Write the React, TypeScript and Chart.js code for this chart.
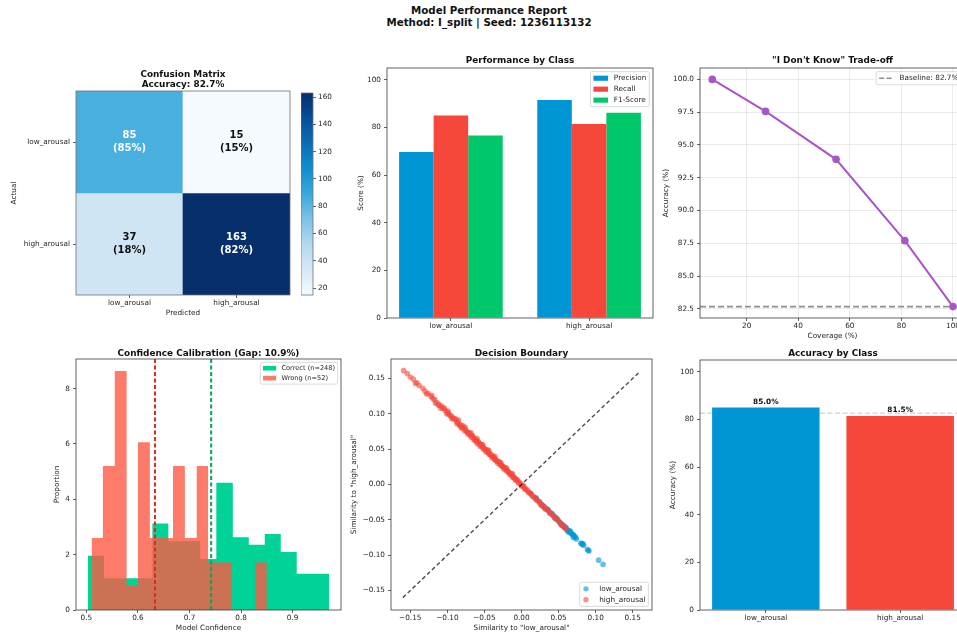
import React, { useEffect, useRef } from 'react';
import { Chart, registerables } from 'chart.js';

Chart.register(...registerables);

// ---------- data ----------
const methodName = 'I_split';
const seed = '1236113132';

const classNames = ['low_arousal', 'high_arousal'];
// rows = actual, columns = predicted
const confusionCounts = [
  [85, 15],
  [37, 163],
];

const metricNames = ['Precision', 'Recall', 'F1-Score'];
const precisionPct = [69.7, 91.6];
const recallPct = [85.0, 81.5];
const f1Pct = [76.6, 86.2];

const coveragePct = [6.67, 27.33, 54.67, 81.33, 100];
const selectiveAccPct = [100.0, 97.56, 93.9, 87.7, 82.67];
const baselineAccPct = 82.67;

const correctBinEdges = [0.503, 0.534, 0.566, 0.597, 0.628, 0.659, 0.69, 0.721, 0.752, 0.784, 0.815, 0.846, 0.877, 0.908, 0.939, 0.971];
const correctDensity = [1.96, 1.15, 1.15, 1.15, 3.13, 2.48, 2.48, 1.84, 4.6, 2.63, 2.36, 2.75, 2.1, 1.31, 1.31];
const wrongBinEdges = [0.51, 0.532, 0.555, 0.578, 0.6, 0.623, 0.646, 0.668, 0.691, 0.714, 0.736, 0.759, 0.782, 0.804, 0.827, 0.85];
const wrongDensity = [2.6, 5.2, 8.64, 0.87, 6.06, 2.6, 2.6, 5.2, 2.6, 5.2, 1.72, 1.72, 0, 0, 1.72];
const correctMeanConf = 0.742;
const wrongMeanConf = 0.633;

const lowSimX = [
  0.012, 0.016, 0.02, 0.024, 0.027, 0.03, 0.033, 0.036, 0.039, 0.042, 0.045, 0.048, 0.05, 0.053, 0.055, 0.057, 0.059, 0.061, 0.063, 0.065,
  0.067, 0.069, 0.071, 0.073, 0.08, 0.082, 0.084, 0.089, 0.091, 0.104, 0.11, 0.064, 0.068, 0.07, 0.072, 0.058, 0.046, 0.052, 0.083,
  0.02, 0.028, 0.035, 0.041, 0.047, 0.054, 0.06, 0.062, 0.066, 0.07, 0.074, 0.081, 0.09,
];
const lowSimY = [
  -0.013, -0.017, -0.021, -0.025, -0.028, -0.031, -0.034, -0.037, -0.04, -0.043, -0.047, -0.049, -0.052, -0.055, -0.057, -0.058, -0.061, -0.063, -0.065, -0.066,
  -0.069, -0.071, -0.073, -0.075, -0.083, -0.085, -0.086, -0.092, -0.094, -0.107, -0.113, -0.068, -0.07, -0.075, -0.074, -0.06, -0.046, -0.054, -0.084,
  -0.019, -0.03, -0.035, -0.041, -0.049, -0.058, -0.061, -0.066, -0.066, -0.071, -0.077, -0.083, -0.093,
];
const highSimX = [
  -0.159, -0.154, -0.15, -0.146, -0.141, -0.138, -0.133, -0.13, -0.126, -0.122, -0.119, -0.117, -0.114, -0.111, -0.108, -0.106, -0.103, -0.1, -0.098, -0.095,
  -0.093, -0.091, -0.088, -0.086, -0.084, -0.082, -0.08, -0.078, -0.075, -0.073, -0.071, -0.069, -0.067, -0.065, -0.063, -0.061, -0.059, -0.057, -0.055, -0.053,
  -0.051, -0.049, -0.047, -0.045, -0.043, -0.041, -0.039, -0.037, -0.035, -0.033, -0.031, -0.029, -0.027, -0.025, -0.023, -0.021, -0.019, -0.017, -0.015, -0.013,
  -0.011, -0.009, -0.007, -0.005, -0.003, -0.001, 0.001, 0.003, 0.005, 0.008, 0.01, 0.013, 0.016, 0.019, 0.022, 0.025, 0.028, 0.031, 0.034, 0.037,
  0.04, 0.043, 0.047, 0.051, 0.055, 0.058,
  -0.121, -0.112, -0.104, -0.097, -0.089, -0.083, -0.079, -0.074, -0.07, -0.066, -0.062, -0.058, -0.054, -0.05, -0.046, -0.042, -0.038, -0.034, -0.03, -0.026,
  -0.022, -0.018, -0.014, -0.01, -0.006, 0.002, 0.006, 0.012, 0.018, 0.024, 0.03, 0.036, 0.042, 0.049, 0.053, 0.06,
  -0.143, -0.128, -0.116, -0.109, -0.101, -0.094, -0.087, -0.081, -0.077, -0.072, -0.068, -0.064, -0.06, -0.056, -0.052, -0.048, -0.044, -0.04, -0.036, -0.032,
  -0.028, -0.024, -0.02, -0.016, -0.012, -0.008, -0.004, 0.0, 0.004, 0.009, 0.014, 0.02, 0.026, 0.032, 0.038, 0.045, 0.056,
  -0.099, -0.085, -0.076, -0.068, -0.06, -0.052, -0.044, -0.036, -0.028, -0.02, -0.012,
];
const highSimY = [
  0.161, 0.157, 0.152, 0.149, 0.144, 0.14, 0.136, 0.132, 0.129, 0.124, 0.121, 0.12, 0.116, 0.113, 0.111, 0.108, 0.105, 0.102, 0.1, 0.097,
  0.095, 0.093, 0.09, 0.088, 0.085, 0.084, 0.081, 0.08, 0.077, 0.074, 0.073, 0.07, 0.069, 0.066, 0.065, 0.062, 0.061, 0.058, 0.056, 0.054,
  0.052, 0.05, 0.048, 0.046, 0.044, 0.042, 0.04, 0.037, 0.036, 0.033, 0.032, 0.029, 0.028, 0.025, 0.024, 0.021, 0.02, 0.017, 0.016, 0.013,
  0.011, 0.009, 0.007, 0.005, 0.003, 0.001, -0.002, -0.003, -0.006, -0.008, -0.011, -0.013, -0.017, -0.019, -0.023, -0.026, -0.029, -0.032, -0.035, -0.038,
  -0.041, -0.044, -0.048, -0.053, -0.057, -0.061,
  0.126, 0.112, 0.108, 0.098, 0.093, 0.083, 0.083, 0.075, 0.072, 0.069, 0.062, 0.06, 0.057, 0.05, 0.049, 0.042, 0.04, 0.034, 0.032, 0.026,
  0.024, 0.018, 0.015, 0.01, 0.007, -0.001, -0.007, -0.012, -0.019, -0.024, -0.032, -0.036, -0.044, -0.05, -0.056, -0.063,
  0.143, 0.128, 0.115, 0.108, 0.1, 0.093, 0.086, 0.08, 0.076, 0.071, 0.067, 0.063, 0.058, 0.054, 0.051, 0.046, 0.043, 0.038, 0.035, 0.03,
  0.027, 0.022, 0.019, 0.014, 0.01, 0.006, 0.002, -0.002, -0.006, -0.011, -0.016, -0.022, -0.029, -0.035, -0.041, -0.048, -0.059,
  0.104, 0.091, 0.081, 0.073, 0.065, 0.056, 0.048, 0.04, 0.031, 0.023, 0.015,
];
const diagRange = [-0.16, 0.16];

const classAccPct = [85.0, 81.5];

// tick values
const colorbarTicks = [20, 40, 60, 80, 100, 120, 140, 160];
const scoreTicks = [0, 20, 40, 60, 80, 100];
const coverageTicks = [20, 40, 60, 80, 100];
const accuracyTicks = [82.5, 85, 87.5, 90, 92.5, 95, 97.5, 100];
const confidenceTicks = [0.5, 0.6, 0.7, 0.8, 0.9];
const proportionTicks = [0, 2, 4, 6, 8];
const similarityTicks = [-0.15, -0.1, -0.05, 0, 0.05, 0.1, 0.15];

// ---------- style ----------
const FONT = "'DejaVu Sans', sans-serif";
const FS = 7.3;
const INK = '#1e1e1e';
const SPINE = '#3a3a3a';
const BLUE = '#0096d6';
const RED = '#f5483a';
const GREEN = '#00c86a';
const PURPLE = '#a855c8';
const HIST_GREEN = '#00d395';
const HIST_RED = 'rgba(255, 90, 68, 0.8)';
const DOT_BLUE = 'rgba(0, 150, 214, 0.6)';
const DOT_RED = 'rgba(245, 72, 58, 0.6)';
const metricColors = [BLUE, RED, GREEN];
const BLUES = ['#f5fafe', '#d6e8f5', '#b5d8ee', '#7cc3e6', '#3aa9dc', '#0f8fcf', '#0a6db5', '#064f99', '#062f6b'];

Chart.defaults.font.family = FONT;
Chart.defaults.font.size = FS;
Chart.defaults.color = INK;

function hexRgb(h: string) {
  const n = parseInt(h.slice(1), 16);
  return [(n >> 16) & 255, (n >> 8) & 255, n & 255];
}
function blues(t: number) {
  const u = Math.min(1, Math.max(0, t)) * (BLUES.length - 1);
  const i = Math.min(BLUES.length - 2, Math.floor(u));
  const f = u - i;
  const a = hexRgb(BLUES[i]);
  const b = hexRgb(BLUES[i + 1]);
  const c = a.map((v, k) => Math.round(v + (b[k] - v) * f));
  return `rgb(${c[0]},${c[1]},${c[2]})`;
}
function roundHalfEven(x: number) {
  const r = Math.round(x);
  return Math.abs(x % 1) === 0.5 && r % 2 !== 0 ? r - 1 : r;
}
const fmtMinus = (v: number, d: number) => (v < 0 ? '\u2212' : '') + Math.abs(v).toFixed(d);

// ---------- layout helpers ----------
type Area = { l: number; t: number; r: number; b: number };
type Gutter = { yw: number; xh: number; pt: number; pr: number; pb?: number; yRight?: number };
type Fit = {
  left: number; top: number; width: number; height: number;
  yw: number; xh: number; yRight: number;
  padding: { left: number; top: number; right: number; bottom: number };
};

function computeFit(a: Area, g: Gutter): Fit {
  const yr = g.yRight ?? 0;
  const left = Math.floor(a.l - g.yw);
  const top = Math.floor(a.t - g.pt);
  const right = Math.ceil(a.r + yr + g.pr);
  const bottom = Math.ceil(a.b + g.xh + (g.pb ?? 0));
  return {
    left, top, width: right - left, height: bottom - top,
    yw: a.l - left, xh: g.xh, yRight: yr,
    padding: { left: 0, top: a.t - top, right: right - a.r - yr, bottom: bottom - a.b - g.xh },
  };
}

function common(fit: Fit) {
  return {
    responsive: false,
    animation: false,
    devicePixelRatio: 1,
    events: [],
    layout: { padding: fit.padding },
    plugins: { legend: { display: false }, tooltip: { enabled: false }, title: { display: false } },
  };
}

type AxisOpts = {
  horiz: boolean; min: number; max: number; ticks: number[];
  fmt: (v: number) => string; size: number; title?: string; grid?: boolean; position?: string; pad?: number;
};
function axis(o: AxisOpts) {
  return {
    type: 'linear',
    position: o.position ?? (o.horiz ? 'bottom' : 'left'),
    min: o.min,
    max: o.max,
    bounds: 'data',
    offset: false,
    afterFit: (s: any) => {
      if (o.horiz) s.height = o.size;
      else s.width = o.size;
    },
    afterBuildTicks: (s: any) => {
      s.ticks = o.ticks.map((v) => ({ value: v }));
    },
    ticks: {
      autoSkip: false,
      maxRotation: 0,
      minRotation: 0,
      padding: o.pad ?? (o.horiz ? 1 : 3),
      color: INK,
      font: { size: FS, family: FONT },
      callback: (v: any) => o.fmt(Number(v)),
    },
    grid: {
      display: true,
      offset: false,
      drawOnChartArea: !!o.grid,
      color: 'rgba(0,0,0,0.1)',
      lineWidth: 0.8,
      drawTicks: true,
      tickLength: 3,
      tickColor: SPINE,
      tickWidth: 0.8,
    },
    border: { display: false },
    title: o.title
      ? { display: true, text: o.title, color: INK, font: { size: FS, family: FONT }, padding: 0 }
      : { display: false },
  };
}

// ---------- plugins ----------
function framePlugin(color = SPINE) {
  return {
    id: 'frame',
    afterDatasetsDraw(chart: any) {
      const { ctx, chartArea: a } = chart;
      ctx.save();
      ctx.strokeStyle = color;
      ctx.lineWidth = 0.8;
      ctx.strokeRect(a.left, a.top, a.right - a.left, a.bottom - a.top);
      ctx.restore();
    },
  };
}

function titlePlugin(lines: string[], offset: number, gap = 9.3) {
  return {
    id: 'panelTitle',
    afterDraw(chart: any) {
      const { ctx, chartArea: a } = chart;
      ctx.save();
      ctx.font = `bold 8.9px ${FONT}`;
      ctx.fillStyle = '#111';
      ctx.textAlign = 'center';
      ctx.textBaseline = 'middle';
      const cx = (a.left + a.right) / 2;
      lines.forEach((s, i) => ctx.fillText(s, cx, a.top - offset - (lines.length - 1 - i) * gap));
      ctx.restore();
    },
  };
}

type LegendItem = { label: string; kind: 'rect' | 'dash' | 'dot'; color: string };
function legendPlugin(items: LegendItem[], corner: 'tr' | 'br', f: number, handleLen?: number) {
  return {
    id: 'boxLegend',
    afterDraw(chart: any) {
      const { ctx, chartArea: a } = chart;
      const bp = 0.4 * f;
      const hl = handleLen ?? 2 * f;
      const tp = 0.8 * f;
      const ls = 0.5 * f;
      const pad = 0.5 * f;
      ctx.save();
      ctx.font = `${f}px ${FONT}`;
      const tw = Math.max(...items.map((it) => ctx.measureText(it.label).width));
      const w = bp + hl + tp + tw + bp;
      const h = 2 * bp + items.length * f + (items.length - 1) * ls;
      const x0 = a.right - pad - w;
      const y0 = corner === 'tr' ? a.top + pad : a.bottom - pad - h;
      ctx.beginPath();
      ctx.roundRect(x0, y0, w, h, 1.5);
      ctx.fillStyle = 'rgba(255,255,255,0.85)';
      ctx.fill();
      ctx.strokeStyle = '#d0d0d0';
      ctx.lineWidth = 0.8;
      ctx.stroke();
      items.forEach((it, i) => {
        const cy = y0 + bp + f / 2 + i * (f + ls);
        const hx = x0 + bp;
        if (it.kind === 'rect') {
          ctx.fillStyle = it.color;
          ctx.fillRect(hx, cy - 0.35 * f, hl, 0.7 * f);
        } else if (it.kind === 'dash') {
          ctx.strokeStyle = it.color;
          ctx.lineWidth = 1.5;
          ctx.setLineDash([5, 2.5]);
          ctx.beginPath();
          ctx.moveTo(hx, cy);
          ctx.lineTo(hx + hl, cy);
          ctx.stroke();
          ctx.setLineDash([]);
        } else {
          ctx.fillStyle = it.color;
          ctx.beginPath();
          ctx.arc(hx + hl / 2 - 2, cy, 2.7, 0, Math.PI * 2);
          ctx.fill();
        }
        ctx.fillStyle = INK;
        ctx.textAlign = 'left';
        ctx.textBaseline = 'middle';
        ctx.fillText(it.label, hx + hl + tp, cy);
      });
      ctx.restore();
    },
  };
}

function hLinePlugin(id: string, value: number, color: string, width: number, dash: number[], before: boolean) {
  const draw = (chart: any) => {
    const { ctx, chartArea: a, scales } = chart;
    const py = scales.y.getPixelForValue(value);
    ctx.save();
    ctx.beginPath();
    ctx.rect(a.left, a.top, a.right - a.left, a.bottom - a.top);
    ctx.clip();
    ctx.strokeStyle = color;
    ctx.lineWidth = width;
    ctx.setLineDash(dash);
    ctx.beginPath();
    ctx.moveTo(a.left, py);
    ctx.lineTo(a.right, py);
    ctx.stroke();
    ctx.restore();
  };
  return before ? { id, beforeDatasetsDraw: draw } : { id, afterDatasetsDraw: draw };
}

function vLinesPlugin(lines: { value: number; color: string }[]) {
  return {
    id: 'vLines',
    afterDatasetsDraw(chart: any) {
      const { ctx, chartArea: a, scales } = chart;
      ctx.save();
      ctx.lineWidth = 2;
      ctx.setLineDash([4, 2.5]);
      lines.forEach((l) => {
        const px = scales.x.getPixelForValue(l.value);
        ctx.strokeStyle = l.color;
        ctx.beginPath();
        ctx.moveTo(px, a.top);
        ctx.lineTo(px, a.bottom);
        ctx.stroke();
      });
      ctx.restore();
    },
  };
}

function heatLabelsPlugin() {
  return {
    id: 'heatLabels',
    afterDatasetsDraw(chart: any) {
      const { ctx } = chart;
      const vmax = Math.max(...confusionCounts.flat());
      ctx.save();
      ctx.font = `bold 10px ${FONT}`;
      ctx.textAlign = 'center';
      ctx.textBaseline = 'middle';
      confusionCounts.forEach((row, ri) => {
        const rowSum = row.reduce((s, v) => s + v, 0);
        const meta = chart.getDatasetMeta(ri);
        row.forEach((v, ci) => {
          const el = meta.data[ci];
          const cy = (el.y + el.base) / 2;
          ctx.fillStyle = v > vmax / 2 ? '#ffffff' : '#111111';
          ctx.fillText(String(v), el.x, cy - 6.2);
          ctx.fillText(`(${roundHalfEven((v * 100) / rowSum)}%)`, el.x, cy + 6.2);
        });
      });
      ctx.restore();
    },
  };
}

function barValuePlugin(values: number[]) {
  return {
    id: 'barValues',
    afterDatasetsDraw(chart: any) {
      const { ctx } = chart;
      const meta = chart.getDatasetMeta(0);
      ctx.save();
      ctx.font = `bold 7.4px ${FONT}`;
      ctx.fillStyle = '#111';
      ctx.textAlign = 'center';
      ctx.textBaseline = 'bottom';
      values.forEach((v, i) => {
        const el = meta.data[i];
        ctx.fillText(`${v.toFixed(1)}%`, el.x, el.y - 2);
      });
      ctx.restore();
    },
  };
}

function stepPoints(edges: number[], heights: number[]) {
  const pts = heights.map((h, i) => ({ x: edges[i], y: h }));
  pts.push({ x: edges[edges.length - 1], y: heights[heights.length - 1] });
  return pts;
}

const classTick = (v: number) => classNames[Math.round(v)] ?? '';

// ---------- panels ----------
function buildConfusion(fit: Fit) {
  const flat = confusionCounts.flat();
  const vmin = Math.min(...flat);
  const vmax = Math.max(...flat);
  const n = classNames.length;
  const total = flat.reduce((s, v) => s + v, 0);
  const hits = confusionCounts.reduce((s, row, i) => s + row[i], 0);
  return {
    type: 'bar',
    data: {
      datasets: confusionCounts.map((row, ri) => ({
        data: row.map((_, ci) => ({ x: ci, y: [n - 1 - ri, n - ri] })),
        backgroundColor: row.map((v) => blues((v - vmin) / (vmax - vmin))),
        grouped: false,
        categoryPercentage: 1,
        barPercentage: 1,
        borderWidth: 0,
      })),
    },
    options: {
      ...common(fit),
      scales: {
        x: axis({ horiz: true, min: -0.5, max: n - 0.5, ticks: classNames.map((_, i) => i), fmt: classTick, size: fit.xh, title: 'Predicted' }),
        y: axis({
          horiz: false, min: 0, max: n, ticks: classNames.map((_, i) => i + 0.5),
          fmt: (v) => classNames[n - 1 - Math.floor(v)], size: fit.yw, title: 'Actual',
        }),
      },
    },
    plugins: [
      heatLabelsPlugin(),
      framePlugin('#707070'),
      titlePlugin(['Confusion Matrix', `Accuracy: ${((hits / total) * 100).toFixed(1)}%`], 6.7),
    ],
  };
}

function buildColorbar(fit: Fit) {
  const flat = confusionCounts.flat();
  const vmin = Math.min(...flat);
  const vmax = Math.max(...flat);
  return {
    type: 'bar',
    data: {
      labels: [''],
      datasets: [
        {
          data: [[vmin, vmax]],
          categoryPercentage: 1,
          barPercentage: 1,
          borderWidth: 0,
          backgroundColor: (c: any) => {
            const { chart } = c;
            if (!chart.chartArea) return BLUES[4];
            const y = chart.scales.y;
            const g = chart.ctx.createLinearGradient(0, y.getPixelForValue(vmin), 0, y.getPixelForValue(vmax));
            BLUES.forEach((col, i) => g.addColorStop(i / (BLUES.length - 1), col));
            return g;
          },
        },
      ],
    },
    options: {
      ...common(fit),
      scales: {
        x: { display: false },
        y: axis({ horiz: false, position: 'right', min: vmin, max: vmax, ticks: colorbarTicks, fmt: (v) => String(v), size: fit.yRight, pad: 2 }),
      },
    },
    plugins: [framePlugin('#707070')],
  };
}

function buildScores(fit: Fit) {
  const series = [precisionPct, recallPct, f1Pct];
  return {
    type: 'bar',
    data: {
      datasets: metricNames.map((name, k) => ({
        label: name,
        data: series[k].map((v, i) => ({ x: i, y: v })),
        backgroundColor: metricColors[k],
        categoryPercentage: 0.75,
        barPercentage: 1,
        borderWidth: 0,
      })),
    },
    options: {
      ...common(fit),
      scales: {
        x: axis({ horiz: true, min: -0.4625, max: 1.4625, ticks: [0, 1], fmt: classTick, size: fit.xh }),
        y: axis({ horiz: false, min: 0, max: 105, ticks: scoreTicks, fmt: (v) => String(v), size: fit.yw, title: 'Score (%)' }),
      },
    },
    plugins: [
      framePlugin(),
      titlePlugin(['Performance by Class'], 7),
      legendPlugin(metricNames.map((m, k) => ({ label: m, kind: 'rect' as const, color: metricColors[k] })), 'tr', FS),
    ],
  };
}

function buildTradeoff(fit: Fit) {
  return {
    type: 'line',
    data: {
      datasets: [
        {
          data: coveragePct.map((c, i) => ({ x: c, y: selectiveAccPct[i] })),
          borderColor: PURPLE,
          borderWidth: 2,
          pointRadius: 3.8,
          pointBackgroundColor: PURPLE,
          pointBorderWidth: 0,
          tension: 0,
          fill: false,
        },
      ],
    },
    options: {
      ...common(fit),
      scales: {
        x: axis({ horiz: true, min: 1.9, max: 104.67, ticks: coverageTicks, fmt: (v) => String(v), size: fit.xh, title: 'Coverage (%)', grid: true }),
        y: axis({ horiz: false, min: 81.8, max: 100.87, ticks: accuracyTicks, fmt: (v) => v.toFixed(1), size: fit.yw, title: 'Accuracy (%)', grid: true }),
      },
    },
    plugins: [
      hLinePlugin('baseline', baselineAccPct, '#8f8f8f', 1.6, [6, 3], true),
      framePlugin(),
      titlePlugin(['"I Don\'t Know" Trade-off'], 7),
      legendPlugin([{ label: `Baseline: ${baselineAccPct.toFixed(1)}%`, kind: 'dash', color: '#8f8f8f' }], 'tr', FS),
    ],
  };
}

function buildCalibration(fit: Fit) {
  const total = confusionCounts.flat().reduce((s, v) => s + v, 0);
  const correct = confusionCounts.reduce((s, row, i) => s + row[i], 0);
  const wrong = total - correct;
  const gap = ((correctMeanConf - wrongMeanConf) * 100).toFixed(1);
  return {
    type: 'line',
    data: {
      datasets: [
        {
          label: `Correct (n=${correct})`,
          data: stepPoints(correctBinEdges, correctDensity),
          stepped: 'before',
          fill: 'origin',
          backgroundColor: HIST_GREEN,
          borderColor: 'transparent',
          borderWidth: 0,
          pointRadius: 0,
          order: 2,
        },
        {
          label: `Wrong (n=${wrong})`,
          data: stepPoints(wrongBinEdges, wrongDensity),
          stepped: 'before',
          fill: 'origin',
          backgroundColor: HIST_RED,
          borderColor: 'transparent',
          borderWidth: 0,
          pointRadius: 0,
          order: 1,
        },
      ],
    },
    options: {
      ...common(fit),
      scales: {
        x: axis({ horiz: true, min: 0.4798, max: 0.9939, ticks: confidenceTicks, fmt: (v) => v.toFixed(1), size: fit.xh, title: 'Model Confidence' }),
        y: axis({ horiz: false, min: 0, max: 9.07, ticks: proportionTicks, fmt: (v) => String(v), size: fit.yw, title: 'Proportion' }),
      },
    },
    plugins: [
      vLinesPlugin([
        { value: wrongMeanConf, color: '#d62d20' },
        { value: correctMeanConf, color: '#00a85a' },
      ]),
      framePlugin(),
      titlePlugin([`Confidence Calibration (Gap: ${gap}%)`], 5.7),
      legendPlugin(
        [
          { label: `Correct (n=${correct})`, kind: 'rect', color: HIST_GREEN },
          { label: `Wrong (n=${wrong})`, kind: 'rect', color: HIST_RED },
        ],
        'tr',
        6.6,
      ),
    ],
  };
}

function buildBoundary(fit: Fit) {
  return {
    type: 'scatter',
    data: {
      datasets: [
        {
          label: classNames[0],
          data: lowSimX.map((x, i) => ({ x, y: lowSimY[i] })),
          backgroundColor: DOT_BLUE,
          pointRadius: 2.8,
          pointBorderWidth: 0,
          order: 2,
        },
        {
          label: classNames[1],
          data: highSimX.map((x, i) => ({ x, y: highSimY[i] })),
          backgroundColor: DOT_RED,
          pointRadius: 2.8,
          pointBorderWidth: 0,
          order: 1,
        },
        {
          type: 'line',
          data: diagRange.map((v) => ({ x: v, y: v })),
          showLine: true,
          borderColor: 'rgba(0,0,0,0.7)',
          borderWidth: 1.4,
          borderDash: [4, 2.7],
          pointRadius: 0,
          fill: false,
          order: 0,
        },
      ],
    },
    options: {
      ...common(fit),
      scales: {
        x: axis({
          horiz: true, min: -0.176, max: 0.176, ticks: similarityTicks, fmt: (v) => fmtMinus(v, 2),
          size: fit.xh, title: `Similarity to "${classNames[0]}"`,
        }),
        y: axis({
          horiz: false, min: -0.1775, max: 0.1775, ticks: similarityTicks, fmt: (v) => fmtMinus(v, 2),
          size: fit.yw, title: `Similarity to "${classNames[1]}"`,
        }),
      },
    },
    plugins: [
      framePlugin(),
      titlePlugin(['Decision Boundary'], 5.7),
      legendPlugin(
        [
          { label: classNames[0], kind: 'dot', color: DOT_BLUE },
          { label: classNames[1], kind: 'dot', color: DOT_RED },
        ],
        'br',
        FS,
        10.7,
      ),
    ],
  };
}

function buildClassAccuracy(fit: Fit) {
  return {
    type: 'bar',
    data: {
      datasets: [
        {
          data: classAccPct.map((v, i) => ({ x: i, y: v })),
          backgroundColor: [BLUE, RED],
          categoryPercentage: 0.8,
          barPercentage: 1,
          borderWidth: 0,
        },
      ],
    },
    options: {
      ...common(fit),
      scales: {
        x: axis({ horiz: true, min: -0.49, max: 1.49, ticks: [0, 1], fmt: classTick, size: fit.xh }),
        y: axis({ horiz: false, min: 0, max: 105, ticks: scoreTicks, fmt: (v) => String(v), size: fit.yw, title: 'Accuracy (%)' }),
      },
    },
    plugins: [
      hLinePlugin('baseline', baselineAccPct, '#c4c4c4', 1, [5, 2.5], true),
      barValuePlugin(classAccPct),
      framePlugin(),
      titlePlugin(['Accuracy by Class'], 6.7),
    ],
  };
}

// ---------- components ----------
function Panel({ area, gutter, build }: { area: Area; gutter: Gutter; build: (fit: Fit) => any }) {
  const ref = useRef<HTMLCanvasElement | null>(null);
  const fit = computeFit(area, gutter);
  useEffect(() => {
    const chart = new Chart(ref.current as HTMLCanvasElement, build(fit));
    return () => chart.destroy();
  }, []);
  return (
    <canvas
      ref={ref}
      width={fit.width}
      height={fit.height}
      style={{ position: 'absolute', left: fit.left, top: fit.top, width: fit.width, height: fit.height }}
    />
  );
}

export default function App() {
  return (
    <div
      style={{
        position: 'fixed', left: 0, top: 0, width: 957, height: 634,
        overflow: 'hidden', background: '#ffffff',
      }}
    >
      <div
        style={{
          position: 'absolute', left: 0, top: 5.4, width: 978, textAlign: 'center',
          fontFamily: FONT, fontWeight: 'bold', fontSize: 10.3, lineHeight: '11.3px', color: '#111',
        }}
      >
        <div>Model Performance Report</div>
        <div>{`Method: ${methodName} | Seed: ${seed}`}</div>
      </div>

      <Panel area={{ l: 76, t: 91, r: 290, b: 295 }} gutter={{ yw: 65.4, xh: 22.7, pt: 24, pr: 4 }} build={buildConfusion} />
      <Panel area={{ l: 301, t: 93, r: 313, b: 295 }} gutter={{ yw: 0, xh: 0, pt: 10, pr: 2, pb: 10, yRight: 30 }} build={buildColorbar} />
      <Panel area={{ l: 387, t: 68, r: 653, b: 318 }} gutter={{ yw: 30, xh: 14, pt: 18, pr: 4 }} build={buildScores} />
      <Panel area={{ l: 700, t: 68, r: 965, b: 318 }} gutter={{ yw: 37.1, xh: 22.4, pt: 18, pr: 10 }} build={buildTradeoff} />
      <Panel area={{ l: 76, t: 359, r: 341, b: 610 }} gutter={{ yw: 22.1, xh: 22.1, pt: 14, pr: 4 }} build={buildCalibration} />
      <Panel area={{ l: 391, t: 359, r: 652, b: 610 }} gutter={{ yw: 40.4, xh: 22.1, pt: 14, pr: 4 }} build={buildBoundary} />
      <Panel area={{ l: 700, t: 360, r: 966, b: 610 }} gutter={{ yw: 30.4, xh: 14, pt: 15, pr: 10 }} build={buildClassAccuracy} />
    </div>
  );
}
